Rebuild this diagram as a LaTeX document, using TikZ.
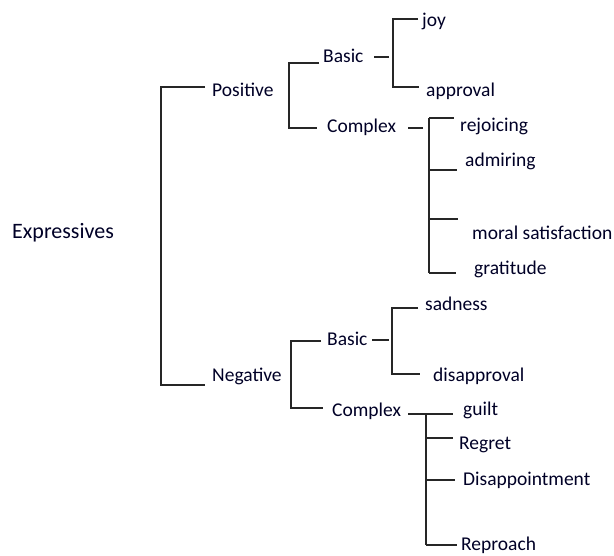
\documentclass[tikz,border=0pt]{standalone}
\usepackage{fontspec}
\setmainfont{Carlito}
\usetikzlibrary{positioning}

\begin{document}
\begin{tikzpicture}[x=1pt,y=-1pt,
  lbl/.style={anchor=mid west, inner sep=0pt, yshift=-4pt, text=black!85!blue, font=\fontsize{19.5}{22}\selectfont},
  br/.style={draw=black!85, line width=1.1pt}]
\useasboundingbox (0,0) rectangle (614,556);

% Labels of the tree
\node[lbl, font=\fontsize{22}{24}\selectfont] (expr) at (12,232) {Expressives};
\node[lbl] (pos) at (212,90) {Positive};
\node[lbl] (neg) at (212,375) {Negative};
\node[lbl] (bas1) at (323,56) {Basic};
\node[lbl] (com1) at (327,126) {Complex};
\node[lbl] (bas2) at (327,339) {Basic};
\node[lbl] (com2) at (332,410) {Complex};
% leaves
\node[lbl] (joy) at (422,20) {joy};
\node[lbl] (app) at (426,90) {approval};
\node[lbl] (rej) at (460,125) {rejoicing};
\node[lbl] (adm) at (465,160) {admiring};
\node[lbl] (mor) at (472,233) {moral satisfaction};
\node[lbl] (gra) at (474,268) {gratitude};
\node[lbl] (sad) at (425,304) {sadness};
\node[lbl] (dis) at (433,375) {disapproval};
\node[lbl] (gui) at (463,409) {guilt};
\node[lbl] (reg) at (459,443) {Regret};
\node[lbl] (dsp) at (463,479) {Disappointment};
\node[lbl] (rep) at (461,544) {Reproach};

% Main bracket
\coordinate (m-top) at (161,87);
\coordinate (m-bot) at (161,385);
\draw[br, shorten <=7pt, shorten >=7pt] (m-top -| pos.west) -- (m-top) -- (m-bot) -- (m-bot -| neg.west);

% Positive bracket
\coordinate (p-top) at (289,63);
\coordinate (p-bot) at (289,128);
\draw[br, shorten <=4pt, shorten >=10pt] (p-top -| bas1.west) -- (p-top) -- (p-bot) -- (p-bot -| com1.west);

% Negative bracket
\coordinate (n-top) at (291,341);
\coordinate (n-bot) at (291,408);
\draw[br, shorten <=6pt, shorten >=9pt] (n-top -| bas2.west) -- (n-top) -- (n-bot) -- (n-bot -| com2.west);

% Basic (positive)
\coordinate (j-top) at (393,19);
\coordinate (j-bot) at (393,87);
\coordinate (j-mid) at (389,57);
\draw[br] (j-mid) -- ++(-15,0);
\draw[br, shorten <=4pt, shorten >=7pt] (j-top -| joy.west) -- (j-top) -- (j-bot) -- (j-bot -| app.west);

% Basic (negative)
\coordinate (s-top) at (392,308);
\coordinate (s-bot) at (392,374);
\coordinate (s-mid) at (389,340);
\draw[br] (s-mid) -- ++(-17,0);
\draw[br, shorten <=7pt, shorten >=13pt] (s-top -| sad.west) -- (s-top) -- (s-bot) -- (s-bot -| dis.west);

% Complex (positive)
\coordinate (c-top) at (429,118);
\coordinate (c-bot) at (429,273);
\coordinate (c-mid) at (423,128);
\draw[br] (c-mid) -- ++(-15,0);
\draw[br] (c-top) -- (c-bot);
\foreach \n/\y/\g in {rej/118/6, adm/170/8, mor/219/14, gra/273/18} {
  \path (429,\y) coordinate (r);
  \draw[br, shorten >=\g pt] (r) -- (r -| \n.west);
}

% Complex (negative)
\coordinate (g-top) at (426,414);
\coordinate (g-bot) at (426,545);
\draw[br] (g-top) -- ++(-18,0);
\draw[br] (g-top) -- (g-bot);
\foreach \n/\y/\g in {gui/414/10, reg/438/6, dsp/480/8, rep/545/4} {
  \path (426,\y) coordinate (r);
  \draw[br, shorten >=\g pt] (r) -- (r -| \n.west);
}

\end{tikzpicture}
\end{document}
